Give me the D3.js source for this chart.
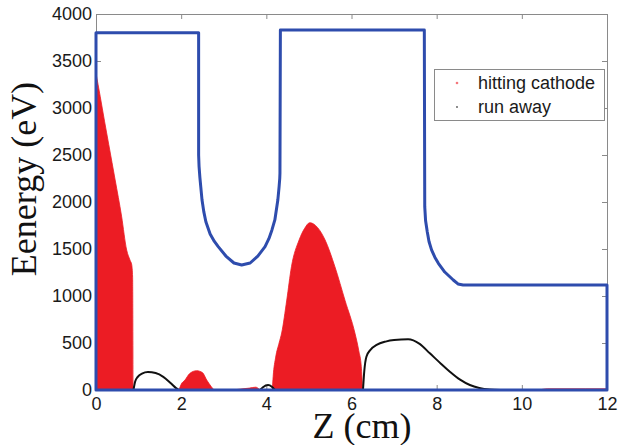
<!DOCTYPE html>
<html>
<head>
<meta charset="utf-8">
<script src="https://cdn.jsdelivr.net/npm/d3@7"></script>
<style>
  html, body { margin: 0; padding: 0; background: #fff; }
  svg { display: block; }
</style>
</head>
<body>
<svg id="chart" width="618" height="445"></svg>
<script>
// ---- data ----
const xTicks = [0, 2, 4, 6, 8, 10, 12];
const yTicks = [0, 500, 1000, 1500, 2000, 2500, 3000, 3500, 4000];
const seriesNames = ["hitting cathode", "run away"];

// potential boundary (blue), closed path [Z cm, Energy eV]
const boundaryZ = [0, 0, 2.41, 2.41, 2.42, 2.44, 2.46, 2.49, 2.53, 2.58, 2.68, 2.78, 2.87, 3.05, 3.24, 3.42, 3.62, 3.8, 3.97, 4.06, 4.13, 4.2, 4.27, 4.3, 4.315, 4.32, 4.33, 7.71, 7.72, 7.74, 7.78, 7.82, 7.88, 7.96, 8.04, 8.19, 8.39, 8.5, 8.62, 12, 12, 0];
const boundaryE = [0, 3800, 3800, 2500, 2380, 2260, 2163, 2021, 1900, 1790, 1660, 1580, 1525, 1425, 1351, 1330, 1351, 1425, 1525, 1610, 1700, 1809, 2021, 2163, 2250, 2309, 3830, 3830, 1950, 1800, 1680, 1580, 1490, 1410, 1348, 1255, 1170, 1128, 1117, 1117, 0, 0];

// "hitting cathode" envelopes (upper energy vs Z)
const hit1Z = [0, 0.1, 0.2, 0.3, 0.45, 0.6, 0.72, 0.8, 0.84, 0.86, 0.87];
const hit1E = [3370, 3120, 2860, 2610, 2234, 1850, 1489, 1380, 1330, 1200, 0];
const hit2Z = [1.95, 2.0, 2.09, 2.2, 2.36, 2.5, 2.6, 2.7, 2.77];
const hit2E = [0, 60, 106, 175, 205, 185, 106, 40, 0];
const hit3Z = [3.2, 3.4, 3.6, 3.75, 3.85];
const hit3E = [0, 10, 20, 30, 0];
const hit4Z = [4.14, 4.16, 4.22, 4.3, 4.36, 4.48, 4.59, 4.77, 4.9, 5.02, 5.2, 5.38, 5.61, 5.85, 6.08, 6.17, 6.23, 6.26];
const hit4E = [0, 141, 350, 500, 606, 957, 1312, 1596, 1720, 1780, 1730, 1596, 1312, 950, 606, 420, 248, 0];
const hit5Z = [10.4, 10.6, 11.5, 12];
const hit5E = [0, 12, 12, 12];

// "run away" curves
const runAZ = [0.88, 0.92, 0.98, 1.08, 1.22, 1.4, 1.58, 1.75, 1.88, 1.95];
const runAE = [0, 90, 140, 175, 191, 180, 140, 75, 20, 0];
const runBZ = [3.85, 3.92, 4.04, 4.13, 4.2];
const runBE = [0, 30, 53, 35, 0];
const runCZ = [6.27, 6.3, 6.35, 6.45, 6.59, 6.8, 7.0, 7.33, 7.6, 7.84, 8.1, 8.31, 8.55, 8.78, 9.0, 9.25, 9.5];
const runCE = [0, 200, 354, 430, 479, 515, 532, 539, 490, 390, 280, 195, 110, 53, 22, 5, 0];

// ---- drawing ----
const zip = (a, b) => a.map((v, i) => [v, b[i]]);
const svg = d3.select("#chart");
svg.append("rect").attr("width", 618).attr("height", 445).attr("fill", "#fff");

const x = d3.scaleLinear().domain([0, 12]).range([96, 607]);
const y = d3.scaleLinear().domain([0, 4000]).range([390, 14]);

const axisColor = "#8a8a8a";
const tickFont = "'Liberation Sans', Arial, sans-serif";

function styleAxis(g) {
  g.selectAll("path.domain").attr("stroke", axisColor).attr("stroke-width", 1);
  g.selectAll(".tick line").attr("stroke", axisColor);
  g.selectAll(".tick text").attr("fill", "#1a1a1a").attr("font-size", 18).attr("font-family", tickFont);
}

svg.append("g").attr("transform", "translate(0,390)")
  .call(d3.axisBottom(x).tickValues(xTicks).tickFormat(d3.format("d")).tickSizeInner(-5).tickSizeOuter(0).tickPadding(7))
  .call(styleAxis);
svg.append("g").attr("transform", "translate(96,0)")
  .call(d3.axisLeft(y).tickValues(yTicks).tickFormat(d3.format("d")).tickSizeInner(-5).tickSizeOuter(0).tickPadding(4))
  .call(styleAxis);
svg.append("g").attr("transform", "translate(0,14)")
  .call(d3.axisTop(x).tickValues(xTicks).tickFormat("").tickSizeInner(-5).tickSizeOuter(0))
  .call(styleAxis);
svg.append("g").attr("transform", "translate(607,0)")
  .call(d3.axisRight(y).tickValues(yTicks).tickFormat("").tickSizeInner(-5).tickSizeOuter(0))
  .call(styleAxis);

const red = "#ec1c24";
const area = d3.area().x(d => x(d[0])).y0(y(0)).y1(d => y(d[1])).curve(d3.curveMonotoneX);
[zip(hit1Z, hit1E), zip(hit2Z, hit2E), zip(hit3Z, hit3E), zip(hit4Z, hit4E), zip(hit5Z, hit5E)].forEach(pts => {
  svg.append("path").attr("d", area(pts)).attr("fill", red).attr("stroke", red).attr("stroke-width", 0.8);
});

const line = d3.line().x(d => x(d[0])).y(d => y(d[1])).curve(d3.curveMonotoneX);
[zip(runAZ, runAE), zip(runBZ, runBE), zip(runCZ, runCE)].forEach(pts => {
  svg.append("path").attr("d", line(pts)).attr("fill", "none").attr("stroke", "#111").attr("stroke-width", 2);
});

const bLine = d3.line().x(d => x(d[0])).y(d => y(d[1])).curve(d3.curveLinear);
svg.append("path").attr("d", bLine(zip(boundaryZ, boundaryE)) + "Z")
  .attr("fill", "none").attr("stroke", "#2e4cad").attr("stroke-width", 3).attr("stroke-linejoin", "round");

// legend
const lg = svg.append("g");
lg.append("rect").attr("x", 434.5).attr("y", 69.5).attr("width", 170).attr("height", 51)
  .attr("fill", "#fff").attr("stroke", axisColor).attr("stroke-width", 1);
lg.append("circle").attr("cx", 457).attr("cy", 83).attr("r", 1.3).attr("fill", red).attr("opacity", 0.6);
lg.append("circle").attr("cx", 457).attr("cy", 107).attr("r", 0.9).attr("fill", "#111").attr("opacity", 0.7);
lg.selectAll("text.lab").data(seriesNames).enter().append("text")
  .attr("x", 478).attr("y", (d, i) => 89 + i * 24)
  .attr("font-family", tickFont).attr("font-size", 18).attr("fill", "#1a1a1a").text(d => d);

// axis titles
svg.append("text").attr("x", 362).attr("y", 438).attr("text-anchor", "middle")
  .attr("font-family", "'Liberation Serif', 'Times New Roman', serif").attr("font-size", 36).attr("fill", "#111")
  .text("Z (cm)");
svg.append("text").attr("transform", "translate(36,179) rotate(-90)").attr("text-anchor", "middle")
  .attr("font-family", "'Liberation Serif', 'Times New Roman', serif").attr("font-size", 36).attr("fill", "#111")
  .text("Eenergy (eV)");
</script>
</body>
</html>
